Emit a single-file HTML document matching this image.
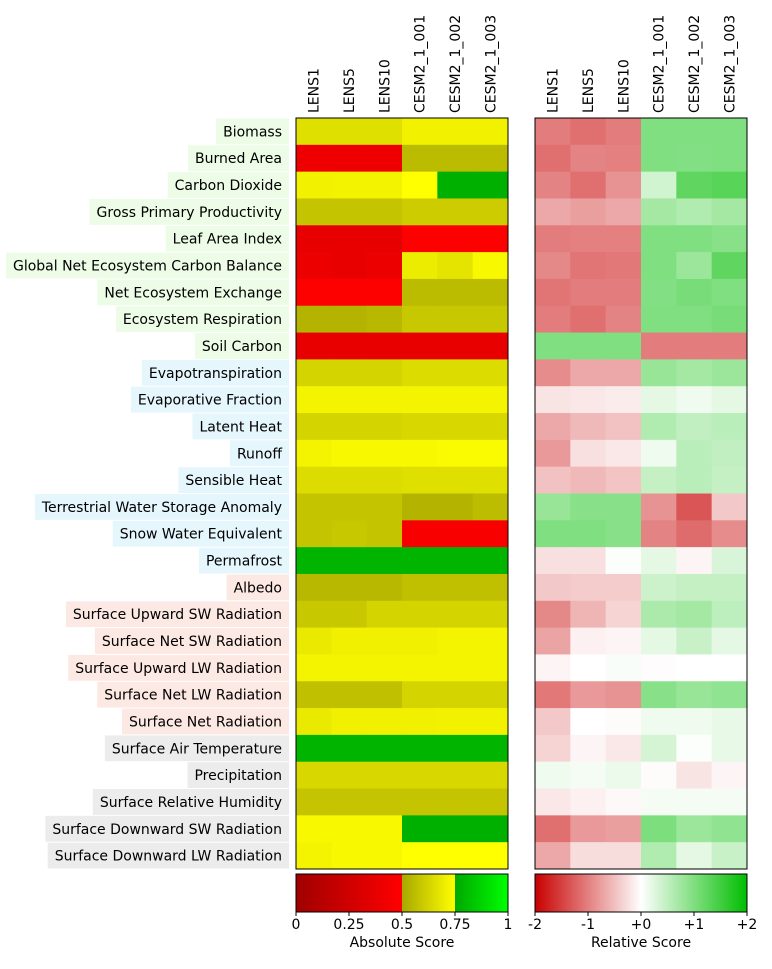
<!DOCTYPE html>
<html><head><meta charset="utf-8"><style>
body{margin:0;background:#fff;font-family:"DejaVu Sans","Liberation Sans",sans-serif;}
svg text{font-family:"DejaVu Sans","Liberation Sans",sans-serif;font-size:14px;fill:#000;}
</style></head><body>
<svg id="chart" width="772" height="965" xmlns="http://www.w3.org/2000/svg">
<defs>
<linearGradient id="gAbs" x1="0" x2="1" y1="0" y2="0">
<stop offset="0" stop-color="#a00000"/><stop offset="0.5" stop-color="#ff0000"/>
<stop offset="0.5" stop-color="#a8a800"/><stop offset="0.75" stop-color="#ffff00"/>
<stop offset="0.75" stop-color="#00a800"/><stop offset="1" stop-color="#00ff00"/>
</linearGradient>
<linearGradient id="gRel" x1="0" x2="1" y1="0" y2="0">
<stop offset="0" stop-color="#c80000"/><stop offset="0.5" stop-color="#ffffff"/><stop offset="1" stop-color="#00be00"/>
</linearGradient>
</defs>
<g id="labelBg"></g><g id="labels"></g><g id="absG"></g><g id="relG"></g><g id="colLabels"></g>
<rect x="296" y="874" width="212" height="38" fill="url(#gAbs)" stroke="#000" stroke-width="1"/>
<rect x="535" y="874" width="212" height="38" fill="url(#gRel)" stroke="#000" stroke-width="1"/>
<g id="cbTicks"></g>
<text x="402" y="947" text-anchor="middle">Absolute Score</text>
<text x="641" y="947" text-anchor="middle">Relative Score</text>
</svg>
<script>
const models=["LENS1","LENS5","LENS10","CESM2_1_001","CESM2_1_002","CESM2_1_003"];
const variables=["Biomass","Burned Area","Carbon Dioxide","Gross Primary Productivity","Leaf Area Index","Global Net Ecosystem Carbon Balance","Net Ecosystem Exchange","Ecosystem Respiration","Soil Carbon","Evapotranspiration","Evaporative Fraction","Latent Heat","Runoff","Sensible Heat","Terrestrial Water Storage Anomaly","Snow Water Equivalent","Permafrost","Albedo","Surface Upward SW Radiation","Surface Net SW Radiation","Surface Upward LW Radiation","Surface Net LW Radiation","Surface Net Radiation","Surface Air Temperature","Precipitation","Surface Relative Humidity","Surface Downward SW Radiation","Surface Downward LW Radiation"];
const groups=[0,0,0,0,0,0,0,0,0,1,1,1,1,1,1,1,1,2,2,2,2,2,2,3,3,3,3,3];
const absScores=[
[.66,.66,.66,.71,.71,.71],[.41,.41,.41,.555,.555,.555],[.71,.715,.715,.749,.773,.773],[.58,.58,.58,.603,.603,.603],
[.38,.38,.38,.49,.49,.49],[.40,.38,.40,.695,.672,.73],[.49,.49,.49,.555,.555,.555],[.534,.534,.546,.592,.592,.592],
[.38,.38,.38,.38,.38,.38],[.626,.626,.626,.65,.65,.65],[.718,.718,.718,.718,.718,.718],[.626,.626,.626,.638,.638,.638],
[.718,.73,.73,.73,.735,.735],[.65,.65,.65,.66,.66,.66],[.58,.58,.58,.534,.534,.557],[.58,.592,.58,.465,.465,.465],
[.784,.784,.784,.784,.784,.784],[.546,.546,.546,.569,.569,.569],[.592,.592,.626,.626,.626,.626],[.69,.707,.707,.707,.718,.718],
[.718,.718,.718,.718,.718,.718],[.569,.569,.569,.626,.626,.626],[.69,.707,.707,.707,.712,.712],[.784,.784,.784,.784,.784,.784],
[.638,.638,.638,.638,.638,.638],[.58,.58,.58,.58,.58,.58],[.73,.73,.73,.773,.773,.773],[.718,.73,.73,.749,.749,.749]];
const relScores=[
[-1.03,-1.12,-1.03,1.0,1.0,1.0],[-1.12,-0.97,-1.0,1.0,0.97,1.0],[-0.97,-1.12,-0.85,0.37,1.25,1.31],[-0.68,-0.75,-0.68,0.71,0.62,0.71],
[-1.03,-1.0,-1.0,1.0,1.0,0.93],[-0.93,-1.09,-1.06,1.0,0.78,1.25],[-1.09,-1.03,-1.03,0.97,1.06,1.0],[-1.03,-1.12,-0.97,1.0,1.0,1.06],
[1.0,1.0,1.0,-1.03,-1.03,-1.03],[-0.9,-0.68,-0.68,0.81,0.71,0.78],[-0.21,-0.18,-0.15,0.21,0.12,0.21],[-0.68,-0.55,-0.49,0.62,0.49,0.55],
[-0.8,-0.24,-0.18,0.12,0.55,0.49],[-0.49,-0.55,-0.46,0.46,0.55,0.46],[0.81,0.93,0.93,-0.85,-1.33,-0.43],[1.0,1.0,0.93,-0.97,-1.15,-0.9],
[-0.24,-0.24,0.02,0.21,-0.08,0.3],[-0.43,-0.4,-0.4,0.4,0.46,0.46],[-0.93,-0.59,-0.34,0.65,0.71,0.52],[-0.71,-0.12,-0.08,0.21,0.43,0.21],
[-0.08,0,0.05,-0.02,0,0.01],[-1.06,-0.8,-0.85,0.93,0.81,0.87],[-0.43,0,-0.03,0.12,0.12,0.18],[-0.34,-0.08,-0.18,0.34,0.03,0.18],
[0.12,0.09,0.15,-0.03,-0.21,-0.08],[-0.18,-0.12,-0.05,0.09,0.09,0.09],[-1.12,-0.8,-0.75,1.03,0.78,0.87],[-0.68,-0.27,-0.27,0.62,0.21,0.43]];
const absTicks=["0","0.25","0.5","0.75","1"];
const relTicks=["-2","-1","+0","+1","+2"];

const NS="http://www.w3.org/2000/svg";
const top0=118,bot0=869,absX=296,relX=535,W=212;
const rowH=(bot0-top0)/variables.length, colW=W/models.length;
const yPos=i=>top0+i*rowH, xAbs=j=>absX+j*colW, xRel=j=>relX+j*colW;
function absColor(v){let r,g,b;
 if(v<0.5){r=160+v/0.5*95;g=0;b=0;}
 else if(v<0.75){const c=168+(v-0.5)/0.25*87;r=c;g=c;b=0;}
 else{r=0;g=168+(v-0.75)/0.25*87;b=0;}
 return `rgb(${Math.round(r)},${Math.round(g)},${Math.round(b)})`;}
function relColor(v){const t=Math.min(1,Math.abs(v)/2);
 if(v<0)return `rgb(${Math.round(255-t*55)},${Math.round(255*(1-t))},${Math.round(255*(1-t))})`;
 return `rgb(${Math.round(255*(1-t))},${Math.round(255-t*65)},${Math.round(255*(1-t))})`;}
function mk(tag,attrs,parent){const e=document.createElementNS(NS,tag);for(const k in attrs)e.setAttribute(k,attrs[k]);parent.appendChild(e);return e;}
const gc=["#ecfce6","#e5f6fd","#fde9e4","#ececec"];
const ctx=document.createElement('canvas').getContext('2d');
ctx.font='14px "DejaVu Sans"';
const L=document.getElementById('labels'),LB=document.getElementById('labelBg');
variables.forEach((name,i)=>{
 const w=ctx.measureText(name).width;
 const r=mk('rect',{x:282-w-7,y:yPos(i)+0.5,width:w+14,height:rowH-1,fill:gc[groups[i]]},LB);
 
 
 const t=mk('text',{x:282,y:yPos(i)+rowH/2+5,'text-anchor':'end'},L);
 t.textContent=name;
 
 
});
const A=document.getElementById('absG'),R=document.getElementById('relG');
absScores.forEach((row,i)=>row.forEach((v,j)=>{
 const r=mk('rect',{x:xAbs(j),y:yPos(i),width:colW+0.5,height:rowH+0.5,fill:absColor(v)},A);
 
 
}));
relScores.forEach((row,i)=>row.forEach((v,j)=>{
 const r=mk('rect',{x:xRel(j),y:yPos(i),width:colW+0.5,height:rowH+0.5,fill:relColor(v)},R);
 
 
}));
mk('rect',{x:absX,y:top0,width:W,height:bot0-top0,fill:'none',stroke:'#000','stroke-width':1},A);
mk('rect',{x:relX,y:top0,width:W,height:bot0-top0,fill:'none',stroke:'#000','stroke-width':1},R);
const C=document.getElementById('colLabels');
[absX,relX].forEach(x0=>models.forEach((m,j)=>{
 const cx=x0+(j+0.5)*colW+5;
 const t=mk('text',{x:cx,y:113,transform:`rotate(-90 ${cx} 113)`},C);
 t.textContent=m;
 
 
}));
const T=document.getElementById('cbTicks');
[[absX,absTicks],[relX,relTicks]].forEach(([x0,ticks])=>ticks.forEach((s,k)=>{
 const x=x0+k*W/(ticks.length-1);
 mk('line',{x1:x,x2:x,y1:912,y2:916,stroke:'#000'},T);
 const t=mk('text',{x:x,y:929,'text-anchor':'middle'},T);
 t.textContent=s;
 
 
}));
</script>
</body></html>
